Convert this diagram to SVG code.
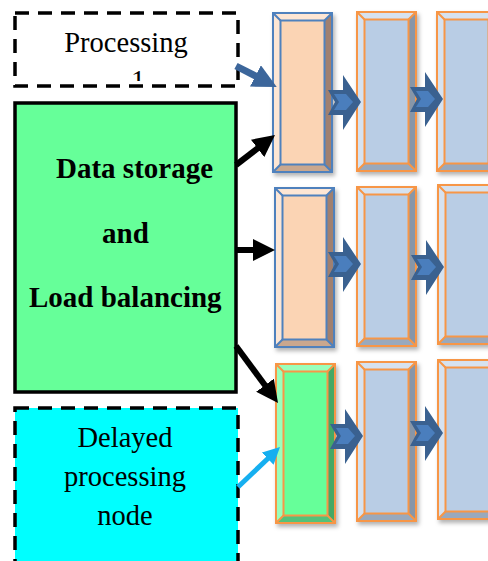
<svg xmlns="http://www.w3.org/2000/svg" xmlns:xlink="http://www.w3.org/1999/xlink" width="488" height="561" viewBox="0 0 488 561">
<style>
.dash{stroke:#000;stroke-width:3.5;stroke-dasharray:14 9}
.t{font-family:"Liberation Serif","DejaVu Serif",serif;font-size:28.5px;fill:#000}
.b{font-family:"Liberation Serif","DejaVu Serif",serif;font-size:29px;font-weight:bold;fill:#000}
.blk{stroke:#000;stroke-width:6;fill:none}
</style>
<defs>
<filter id="sh" x="-20%" y="-10%" width="150%" height="130%">
<feDropShadow dx="2" dy="3" stdDeviation="2" flood-color="#000" flood-opacity="0.3"/>
</filter>
<marker id="ah" markerUnits="userSpaceOnUse" viewBox="0 0 22 22" markerWidth="22" markerHeight="22" refX="10" refY="11" orient="auto">
<path d="M0,0 L22,11 L0,22 Z" fill="#000"/>
</marker>
<marker id="ahb" markerUnits="userSpaceOnUse" viewBox="0 0 24 24" markerWidth="24" markerHeight="24" refX="10" refY="12" orient="auto">
<path d="M0,0 L24,12 L0,24 Z" fill="#3c669b"/>
</marker>
<marker id="ahc" markerUnits="userSpaceOnUse" viewBox="0 0 17 17" markerWidth="17" markerHeight="17" refX="8" refY="8.5" orient="auto">
<path d="M0,0 L17,8.5 L0,17 Z" fill="#16aff0"/>
</marker>
<g id="bp" filter="url(#sh)">
<rect x="0" y="0" width="59" height="159" fill="#fbd4b4"/>
<path d="M0,0 L59,0 L51.5,7.5 L7.5,7.5 Z" fill="#fde6d4"/>
<path d="M0,0 L7.5,7.5 L7.5,151.5 L0,159 Z" fill="#fde6d4"/>
<path d="M59,0 L59,159 L51.5,151.5 L51.5,7.5 Z" fill="#a08070"/>
<path d="M0,159 L7.5,151.5 L51.5,151.5 L59,159 Z" fill="#c9a78e"/>
<g fill="none" stroke="#4f81bd" stroke-width="2">
<rect x="0" y="0" width="59" height="159"/>
<rect x="7.5" y="7.5" width="44" height="144"/>
<path d="M0,0 L7.5,7.5 M59,0 L51.5,7.5 M0,159 L7.5,151.5 M59,159 L51.5,151.5"/>
</g>
</g>
<g id="bb" filter="url(#sh)">
<rect x="0" y="0" width="59" height="159" fill="#b9cde5"/>
<path d="M0,0 L59,0 L51.5,7.5 L7.5,7.5 Z" fill="#d6e2f0"/>
<path d="M0,0 L7.5,7.5 L7.5,151.5 L0,159 Z" fill="#d6e2f0"/>
<path d="M59,0 L59,159 L51.5,151.5 L51.5,7.5 Z" fill="#8796a8"/>
<path d="M0,159 L7.5,151.5 L51.5,151.5 L59,159 Z" fill="#99a9bd"/>
<g fill="none" stroke="#f79646" stroke-width="2">
<rect x="0" y="0" width="59" height="159"/>
<rect x="7.5" y="7.5" width="44" height="144"/>
<path d="M0,0 L7.5,7.5 M59,0 L51.5,7.5 M0,159 L7.5,151.5 M59,159 L51.5,151.5"/>
</g>
</g>
<g id="bg" filter="url(#sh)">
<rect x="0" y="0" width="59" height="159" fill="#66ff99"/>
<path d="M0,0 L59,0 L51.5,7.5 L7.5,7.5 Z" fill="#99ffbb"/>
<path d="M0,0 L7.5,7.5 L7.5,151.5 L0,159 Z" fill="#99ffbb"/>
<path d="M59,0 L59,159 L51.5,151.5 L51.5,7.5 Z" fill="#44a865"/>
<path d="M0,159 L7.5,151.5 L51.5,151.5 L59,159 Z" fill="#52c27a"/>
<g fill="none" stroke="#f79646" stroke-width="2">
<rect x="0" y="0" width="59" height="159"/>
<rect x="7.5" y="7.5" width="44" height="144"/>
<path d="M0,0 L7.5,7.5 M59,0 L51.5,7.5 M0,159 L7.5,151.5 M59,159 L51.5,151.5"/>
</g>
</g>
<g id="chev">
<path d="M0,-12 L15,-12 L15,-27 L33,0 L15,28 L15,13 L0,13 L7,0 Z" fill="#3a6190"/>
<path d="M6,-8 L18,-8 L25,0 L18,8 L6,8 L11,0 Z" fill="#4a7ebd"/>
</g>
<clipPath id="c1"><rect x="120" y="60" width="40" height="21"/></clipPath>
</defs>

<g id="processing">
<rect class="dash" x="15" y="13" width="223" height="73" fill="#ffffff"/>
<text class="t" x="126" y="52" text-anchor="middle">Processing</text>
<text class="t" x="138" y="90" text-anchor="middle" clip-path="url(#c1)">1</text>
</g>

<g id="storage">
<rect x="15" y="103" width="221" height="289" fill="#66ff99" stroke="#000" stroke-width="3.5"/>
<text class="b" x="56" y="178">Data storage</text>
<text class="b" x="102" y="243">and</text>
<text class="b" x="29" y="307">Load balancing</text>
</g>

<g id="delayed">
<rect class="dash" x="15" y="408" width="223" height="170" fill="#00ffff"/>
<text class="t" x="125" y="447" text-anchor="middle">Delayed</text>
<text class="t" x="125" y="486" text-anchor="middle">processing</text>
<text class="t" x="125" y="525" text-anchor="middle">node</text>
</g>

<g id="r1c1"><use href="#bp" x="273" y="13"/></g>
<g id="r1c2"><use href="#bb" x="357" y="12"/></g>
<g id="r1c3"><use href="#bb" x="437" y="12"/></g>
<g id="r2c1"><use href="#bp" x="275" y="188"/></g>
<g id="r2c2"><use href="#bb" x="357" y="187"/></g>
<g id="r2c3"><use href="#bb" x="438" y="185"/></g>
<g id="r3c1"><use href="#bg" x="276" y="364"/></g>
<g id="r3c2"><use href="#bb" x="357" y="362"/></g>
<g id="r3c3"><use href="#bb" x="438" y="360"/></g>

<g id="connectors">
<use href="#chev" x="328" y="102"/>
<use href="#chev" x="410" y="99"/>
<use href="#chev" x="328" y="264"/>
<use href="#chev" x="411" y="267"/>
<use href="#chev" x="330" y="436"/>
<use href="#chev" x="410" y="433"/>
<line x1="236" y1="66" x2="264.3" y2="80.5" stroke="#3c669b" stroke-width="7" marker-end="url(#ahb)"/>
<line class="blk" x1="236" y1="165" x2="265.5" y2="142.3" marker-end="url(#ah)"/>
<line class="blk" x1="236" y1="250" x2="263" y2="250" marker-end="url(#ah)"/>
<line class="blk" x1="236" y1="346" x2="270.9" y2="393.3" marker-end="url(#ah)"/>
<line x1="238" y1="487" x2="273.5" y2="453.2" stroke="#16aff0" stroke-width="5" marker-end="url(#ahc)"/>
</g>
</svg>
